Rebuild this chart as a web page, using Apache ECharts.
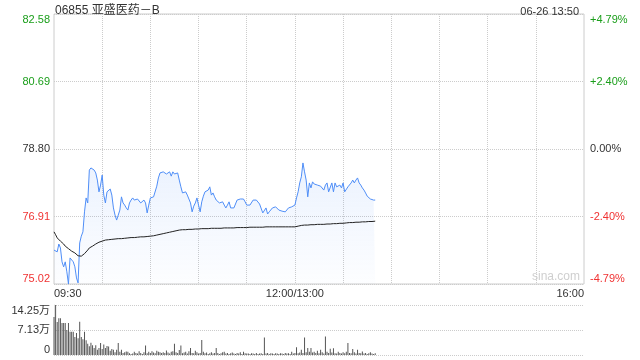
<!DOCTYPE html>
<html lang="zh-CN" style="height: 100%">
<head>
    <meta charset="utf-8">
</head>
<body style="height: 100%; margin: 0">
    <div id="main" style="width: 640px; height: 360px"></div>
    <script src="https://cdn.jsdelivr.net/npm/echarts@6/dist/echarts.min.js"></script>
    <script type="text/javascript">
        // 06855 亚盛医药-B, 06-26 intraday, one value per minute from 09:30 to 13:50
        var stockName = '06855 亚盛医药－B';
        var stamp = '06-26 13:50';
        var prevClose = 78.80;
        var step = 1.89;
        var priceTicks = ['75.02', '76.91', '78.80', '80.69', '82.58'];
        var pctTicks = ['-4.79%', '-2.40%', '0.00%', '+2.40%', '+4.79%'];
        var volTicks = ['0', '7.13万', '14.25万'];

        var prices = [
            75.97, 75.92, 75.92, 76.14, 76.03, 75.64, 75.50, 75.64, 75.36, 75.02,
            75.75, 75.80, 75.64, 75.50, 75.19, 75.05, 76.17, 76.36, 76.48, 77.04,
            77.43, 77.29, 78.21, 78.27, 78.24, 78.21, 78.13, 77.93, 77.60, 77.79,
            78.07, 77.51, 77.29, 77.60, 77.65, 77.68, 77.51, 77.15, 76.95, 76.81,
            76.95, 77.09, 77.46, 77.29, 77.23, 77.15, 77.09, 77.29, 77.37, 77.43,
            77.37, 77.34, 77.40, 77.37, 77.29, 77.34, 77.37, 77.29, 77.01, 77.23,
            77.43, 77.46, 77.46, 77.48, 77.76, 77.99, 78.13, 78.18, 78.16, 78.16,
            78.10, 78.07, 78.16, 78.04, 78.16, 78.10, 78.10, 78.13, 77.93, 77.74,
            77.57, 77.62, 77.60, 77.51, 77.46, 77.29, 77.04, 77.20, 77.29, 77.43,
            77.23, 77.04, 77.32, 77.48, 77.60, 77.60, 77.65, 77.74, 77.51, 77.57,
            77.46, 77.37, 77.32, 77.29, 77.32, 77.32, 77.23, 77.15, 77.23, 77.32,
            77.15, 77.18, 77.15, 77.26, 77.37, 77.37, 77.40, 77.40, 77.40, 77.32,
            77.23, 77.23, 77.23, 77.23, 77.37, 77.37, 77.37, 77.32, 77.26, 77.23,
            77.01, 77.06, 77.15, 76.98, 77.04, 77.09, 77.15, 77.18, 77.18, 77.15,
            77.09, 77.04, 77.06, 77.06, 77.04, 77.01, 77.15, 77.18, 77.18, 77.20,
            77.23, 77.43, 77.60, 77.85, 78.02, 78.41, 78.16, 77.93, 77.46, 77.85,
            77.71, 77.88, 77.82, 77.79, 77.79, 77.79, 77.76, 77.74, 77.65, 77.79,
            77.85, 77.60, 77.65, 77.85, 77.60, 77.85, 77.74, 77.76, 77.79, 77.71,
            77.85, 77.60, 77.65, 77.74, 77.79, 77.85, 77.93, 77.85, 77.93, 77.99,
            77.85, 77.79, 77.71, 77.65, 77.57, 77.48, 77.43, 77.40, 77.37, 77.37,
            77.37
        ];

        var avgPrices = [
            76.48, 76.40, 76.31, 76.26, 76.22, 76.18, 76.14, 76.08, 76.05, 76.01,
            75.97, 75.94, 75.91, 75.89, 75.85, 75.81, 75.78, 75.80, 75.83, 75.87,
            75.92, 75.97, 76.03, 76.06, 76.08, 76.11, 76.14, 76.16, 76.19, 76.20,
            76.22, 76.24, 76.25, 76.26, 76.26, 76.27, 76.27, 76.28, 76.28, 76.28,
            76.29, 76.29, 76.29, 76.30, 76.30, 76.31, 76.31, 76.31, 76.32, 76.32,
            76.32, 76.33, 76.33, 76.33, 76.34, 76.34, 76.34, 76.35, 76.35, 76.35,
            76.36, 76.36, 76.37, 76.38, 76.39, 76.40, 76.41, 76.42, 76.43, 76.44,
            76.45, 76.46, 76.47, 76.48, 76.49, 76.50, 76.51, 76.52, 76.53, 76.53,
            76.54, 76.54, 76.54, 76.55, 76.55, 76.55, 76.55, 76.56, 76.56, 76.56,
            76.56, 76.56, 76.57, 76.57, 76.57, 76.57, 76.57, 76.57, 76.58, 76.58,
            76.58, 76.58, 76.58, 76.58, 76.58, 76.58, 76.59, 76.59, 76.59, 76.59,
            76.59, 76.59, 76.59, 76.59, 76.60, 76.60, 76.60, 76.60, 76.60, 76.60,
            76.60, 76.60, 76.61, 76.61, 76.61, 76.61, 76.61, 76.61, 76.61, 76.61,
            76.61, 76.62, 76.62, 76.62, 76.62, 76.62, 76.62, 76.62, 76.62, 76.62,
            76.62, 76.62, 76.62, 76.62, 76.62, 76.62, 76.62, 76.62, 76.62, 76.62,
            76.62, 76.63, 76.64, 76.65, 76.66, 76.67, 76.67, 76.67, 76.67, 76.68,
            76.68, 76.68, 76.68, 76.68, 76.69, 76.69, 76.69, 76.69, 76.69, 76.70,
            76.70, 76.70, 76.70, 76.71, 76.71, 76.71, 76.71, 76.72, 76.72, 76.72,
            76.72, 76.73, 76.73, 76.73, 76.74, 76.74, 76.74, 76.75, 76.75, 76.75,
            76.75, 76.76, 76.76, 76.76, 76.76, 76.77, 76.77, 76.77, 76.77, 76.78,
            76.78
        ];

        // volume in 万股
        var volumes = [
            10.8, 14.25, 9.4, 10.5, 10.5, 9.1, 9.1, 9.1, 7.1, 9.1,
            6.6, 6.6, 6.6, 5.1, 6.3, 4.8, 9.5, 5.1, 4.5, 6.6,
            4.2, 3.2, 2.5, 3.5, 2.8, 2.0, 2.8, 1.5, 2.0, 3.4,
            1.7, 3.0, 2.0, 2.6, 2.4, 1.2, 1.7, 1.5, 0.8, 1.5,
            3.4, 0.9, 1.5, 0.6, 0.8, 1.0, 0.9, 0.5, 0.3, 0.4,
            0.9, 0.6, 0.4, 1.1, 0.6, 0.3, 0.8, 2.7, 0.5, 0.9,
            0.6, 1.1, 0.7, 0.5, 1.2, 0.9, 0.8, 0.6, 0.8, 0.6,
            1.3, 0.7, 0.4, 0.9, 1.1, 3.2, 0.8, 0.6, 1.4, 2.7,
            0.5, 0.7, 0.9, 0.4, 1.1, 2.0, 0.6, 0.5, 1.2, 0.8,
            0.4, 0.6, 4.3, 0.9, 0.5, 0.7, 0.3, 0.5, 0.8, 0.4,
            0.6, 2.0, 0.6, 0.3, 0.5, 0.8, 0.9, 0.4, 0.6, 0.3,
            0.5, 0.7, 0.4, 0.3, 0.6, 0.4, 0.8, 0.3, 0.9, 0.5,
            0.4, 0.4, 0.3, 0.5, 0.4, 0.3, 0.6, 0.3, 0.4, 0.5,
            0.3, 5.0, 0.4, 0.6, 0.3, 0.5, 0.4, 0.3, 0.5, 0.4,
            0.3, 0.5, 0.4, 0.3, 0.6, 0.4, 0.5, 0.3, 0.9, 0.4,
            0.6, 2.2, 0.5, 0.7, 1.5, 0.6, 5.0, 0.8, 2.0, 0.9,
            2.0, 0.7, 0.9, 0.6, 1.2, 0.5, 1.5, 0.8, 0.4, 5.3,
            0.9, 0.6, 1.8, 0.7, 1.9, 0.5, 0.4, 0.9, 0.6, 0.4,
            0.8, 0.5, 0.9, 3.4, 0.6, 0.5, 1.7, 0.8, 0.4, 1.5,
            0.6, 0.5, 1.0, 0.4, 0.6, 0.3, 0.5, 0.8, 0.4, 0.3,
            0.5
        ];

        // trading minutes 09:30-12:00 and 13:00-16:00, lunch break merged into one slot
        var times = [];
        for (var i = 0; i <= 330; i++) {
            var t = i <= 150 ? 570 + i : 780 + i - 150;
            var hh = Math.floor(t / 60), mm = t % 60;
            times.push(i === 150 ? '12:00/13:00' : (hh < 10 ? '0' : '') + hh + ':' + (mm < 10 ? '0' : '') + mm);
        }

        var upColor = '#1a9e1a';
        var downColor = '#f03232';
        var flatColor = '#333';
        var font = '"Liberation Sans", Arial, "Noto Sans CJK SC", sans-serif';

        function tickColor(v) {
            v = Number(v);
            if (v > 0.001) return upColor;
            if (v < -0.001) return downColor;
            return flatColor;
        }

        var dom = document.getElementById('main');
        var myChart = echarts.init(dom, null, { renderer: 'canvas' });

        var option = {
            animation: false,
            textStyle: { fontFamily: font },
            title: [
                {
                    text: stockName,
                    left: 50,
                    top: 0,
                    textStyle: { fontSize: 12, fontWeight: 'normal', color: '#333', fontFamily: font }
                },
                {
                    text: stamp,
                    right: 56,
                    top: 1,
                    textStyle: { fontSize: 11, fontWeight: 'normal', color: '#333', fontFamily: font }
                }
            ],
            graphic: [
                {
                    type: 'text',
                    left: 532,
                    top: 271,
                    style: { text: 'sina.com', fill: '#cfcfcf', font: '12px ' + font }
                }
            ],
            grid: [
                { left: 54, right: 56, top: 14, height: 270, show: true, borderColor: '#ccc', borderWidth: 1 },
                { left: 54, right: 56, top: 305, height: 50 }
            ],
            xAxis: [
                {
                    type: 'category',
                    gridIndex: 0,
                    data: times,
                    boundaryGap: false,
                    axisLine: { show: false },
                    axisTick: { show: false },
                    axisLabel: {
                        interval: function (index) { return index === 0 || index === 150 || index === 330; },
                        color: '#333',
                        fontSize: 11,
                        margin: 4,
                        alignMinLabel: 'left',
                        alignMaxLabel: 'right'
                    },
                    splitLine: {
                        show: true,
                        interval: function (index) { return index % 30 === 0 && index > 0 && index < 330; },
                        lineStyle: { color: '#ccc', type: 'dotted' }
                    }
                },
                {
                    type: 'category',
                    gridIndex: 1,
                    data: times,
                    boundaryGap: false,
                    axisLine: { show: false },
                    axisTick: { show: false },
                    axisLabel: { show: false },
                    splitLine: { show: false }
                }
            ],
            yAxis: [
                {
                    type: 'value',
                    gridIndex: 0,
                    position: 'left',
                    min: -2 * step,
                    max: 2 * step,
                    interval: step,
                    axisLine: { show: false },
                    axisTick: { show: false },
                    axisLabel: {
                        fontSize: 11,
                        margin: 4,
                        verticalAlignMinLabel: 'bottom',
                        verticalAlignMaxLabel: 'top',
                        formatter: function (v) { return priceTicks[Math.round(v / step) + 2]; },
                        color: tickColor
                    },
                    splitLine: { show: true, lineStyle: { color: '#ccc', type: 'dotted' } }
                },
                {
                    type: 'value',
                    gridIndex: 0,
                    position: 'right',
                    min: -2 * step,
                    max: 2 * step,
                    interval: step,
                    axisLine: { show: false },
                    axisTick: { show: false },
                    axisLabel: {
                        fontSize: 11,
                        margin: 6,
                        verticalAlignMinLabel: 'bottom',
                        verticalAlignMaxLabel: 'top',
                        formatter: function (v) { return pctTicks[Math.round(v / step) + 2]; },
                        color: tickColor
                    },
                    splitLine: { show: false }
                },
                {
                    type: 'value',
                    gridIndex: 1,
                    min: 0,
                    max: 14.25,
                    interval: 7.125,
                    axisLine: { show: true, lineStyle: { color: '#ddd' } },
                    axisTick: { show: false },
                    axisLabel: {
                        fontSize: 11,
                        margin: 4,
                        color: '#333',
                        verticalAlignMinLabel: 'bottom',
                        verticalAlignMaxLabel: 'top',
                        formatter: function (v) { return volTicks[Math.round(v / 7.125)]; }
                    },
                    splitLine: { show: true, lineStyle: { color: '#ccc', type: 'dotted' } }
                }
            ],
            series: [
                {
                    name: '价格',
                    type: 'line',
                    xAxisIndex: 0,
                    yAxisIndex: 0,
                    data: prices.map(function (p) { return +(p - prevClose).toFixed(2); }),
                    showSymbol: false,
                    lineStyle: { color: '#4f8ef7', width: 1 },
                    areaStyle: {
                        origin: 'start',
                        color: new echarts.graphic.LinearGradient(0, 0, 0, 1, [
                            { offset: 0, color: 'rgba(79, 142, 247, 0.16)' },
                            { offset: 1, color: 'rgba(79, 142, 247, 0.02)' }
                        ])
                    },
                    z: 3
                },
                {
                    name: '均价',
                    type: 'line',
                    xAxisIndex: 0,
                    yAxisIndex: 0,
                    data: avgPrices.map(function (p) { return +(p - prevClose).toFixed(2); }),
                    showSymbol: false,
                    lineStyle: { color: '#222', width: 1 },
                    z: 4
                },
                {
                    name: '成交量',
                    type: 'bar',
                    xAxisIndex: 1,
                    yAxisIndex: 2,
                    data: volumes,
                    barWidth: 1,
                    itemStyle: { color: '#555' }
                }
            ]
        };

        if (option && typeof option === 'object') {
            myChart.setOption(option);
        }
        window.addEventListener('resize', myChart.resize);
    </script>
</body>
</html>
